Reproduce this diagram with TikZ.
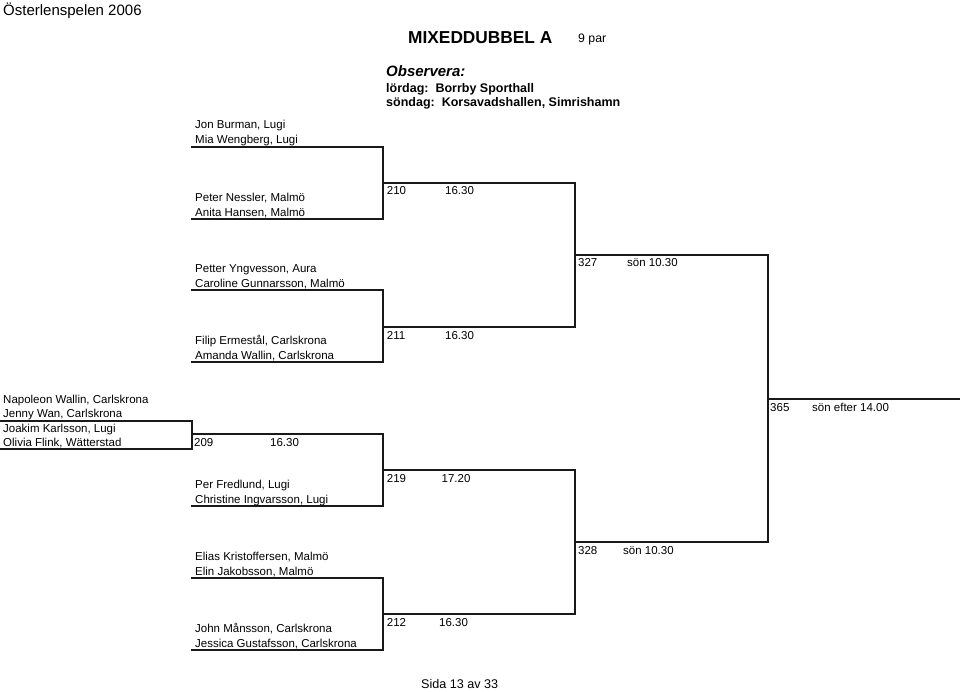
\documentclass[tikz,border=0pt]{standalone}
\usepackage{fontspec}
\setmainfont{Liberation Sans}
\begin{document}
\begin{tikzpicture}[x=1pt,y=-1pt,
  bline/.style={draw=black!90,line width=1.6pt,line join=miter,line cap=rect},
  txt/.style={anchor=base west,inner sep=0pt,font=\fontsize{11.5}{13}\selectfont},
  lbl/.style={anchor=base west,inner sep=0pt,font=\fontsize{11.5}{13}\selectfont}]
\useasboundingbox (0,0) rectangle (960,692);
% headings
\node[anchor=base west,inner sep=0pt,font=\fontsize{15}{17}\selectfont] (title) at (3,15.5) {Österlenspelen 2006};
\node[anchor=base west,inner sep=0pt,font=\fontsize{17.3}{19}\selectfont\bfseries] (class) at (408,43.3) {MIXEDDUBBEL A};
\node[anchor=base west,inner sep=0pt,font=\fontsize{12.3}{14}\selectfont] (npar) at (578,43) {9 par};
\node[anchor=base west,inner sep=0pt,font=\fontsize{15}{17}\selectfont\bfseries\itshape] (obs) at (386,76.5) {Observera:};
\node[anchor=base west,inner sep=0pt,font=\fontsize{12.5}{14}\selectfont\bfseries] (lor) at (386,92.5) {lördag:\ \ Borrby Sporthall};
\node[anchor=base west,inner sep=0pt,font=\fontsize{12.5}{14}\selectfont\bfseries] (son) at (386,106.8) {söndag:\ \ Korsavadshallen, Simrishamn};
\node[anchor=base west,inner sep=0pt,font=\fontsize{12.6}{14}\selectfont] (page) at (421,688) {Sida 13 av 33};

% entrant line coordinates
\coordinate (e1a) at (192,147); \coordinate (e1b) at (383,147);
\coordinate (e2a) at (192,219); \coordinate (e2b) at (383,219);
\coordinate (e3a) at (192,290); \coordinate (e3b) at (383,290);
\coordinate (e4a) at (192,362); \coordinate (e4b) at (383,362);
\coordinate (e5a) at (0,421);   \coordinate (e5b) at (192,421);
\coordinate (e6a) at (0,449);   \coordinate (e6b) at (192,449);
\coordinate (e7a) at (192,506); \coordinate (e7b) at (383,506);
\coordinate (e8a) at (192,578); \coordinate (e8b) at (383,578);
\coordinate (e9a) at (192,650); \coordinate (e9b) at (383,650);
% match line coordinates
\coordinate (m209a) at (192,434); \coordinate (m209b) at (383,434);
\coordinate (m210a) at (383,183); \coordinate (m210b) at (575,183);
\coordinate (m211a) at (383,327); \coordinate (m211b) at (575,327);
\coordinate (m219a) at (383,470); \coordinate (m219b) at (575,470);
\coordinate (m212a) at (383,614); \coordinate (m212b) at (575,614);
\coordinate (m327a) at (575,255); \coordinate (m327b) at (768,255);
\coordinate (m328a) at (575,542); \coordinate (m328b) at (768,542);
\coordinate (m365a) at (768,399); \coordinate (m365b) at (960,399);

% brackets
\draw[bline] (e1a) -- (e1b) -- (e2b) -- (e2a);
\draw[bline] (e3a) -- (e3b) -- (e4b) -- (e4a);
\draw[bline] (e5a) -- (e5b) -- (e6b) -- (e6a);
\draw[bline] (m209a) -- (m209b) -- (e7b) -- (e7a);
\draw[bline] (e8a) -- (e8b) -- (e9b) -- (e9a);
\draw[bline] (m210a) -- (m210b) -- (m211b) -- (m211a);
\draw[bline] (m219a) -- (m219b) -- (m212b) -- (m212a);
\draw[bline] (m327a) -- (m327b) -- (m328b) -- (m328a);
\draw[bline] (m365a) -- (m365b);

% names
\node[txt] (n1a) at (195,129) {Jon Burman, Lugi};
\node[txt] (n1b) at (195,144) {Mia Wengberg, Lugi};
\node[txt] (n2a) at (195,201.5) {Peter Nessler, Malmö};
\node[txt] (n2b) at (195,216.5) {Anita Hansen, Malmö};
\node[txt] (n3a) at (195,272.5) {Petter Yngvesson, Aura};
\node[txt] (n3b) at (195,287.5) {Caroline Gunnarsson, Malmö};
\node[txt] (n4a) at (195,344.5) {Filip Ermestål, Carlskrona};
\node[txt] (n4b) at (195,359.5) {Amanda Wallin, Carlskrona};
\node[txt] (n5a) at (3,403) {Napoleon Wallin, Carlskrona};
\node[txt] (n5b) at (3,417.5) {Jenny Wan, Carlskrona};
\node[txt] (n6a) at (3,432) {Joakim Karlsson, Lugi};
\node[txt] (n6b) at (3,446.5) {Olivia Flink, Wätterstad};
\node[txt] (n7a) at (195,488.5) {Per Fredlund, Lugi};
\node[txt] (n7b) at (195,503.5) {Christine Ingvarsson, Lugi};
\node[txt] (n8a) at (195,560.5) {Elias Kristoffersen, Malmö};
\node[txt] (n8b) at (195,575.5) {Elin Jakobsson, Malmö};
\node[txt] (n9a) at (195,632.5) {John Månsson, Carlskrona};
\node[txt] (n9b) at (195,647.5) {Jessica Gustafsson, Carlskrona};

% match labels
\node[lbl] (l209) at (194,446.5) {209};   \node[lbl] (t209) at (270,446.5) {16.30};
\node[lbl] (l210) at (386.7,195) {210};   \node[lbl] (t210) at (445,195) {16.30};
\node[lbl] (l211) at (386.7,339) {211};   \node[lbl] (t211) at (445,339) {16.30};
\node[lbl] (l219) at (386.7,482) {219};   \node[lbl] (t219) at (441.5,482) {17.20};
\node[lbl] (l212) at (386.7,626) {212};   \node[lbl] (t212) at (439,626) {16.30};
\node[lbl] (l327) at (578,267) {327};     \node[lbl] (t327) at (627,267) {sön 10.30};
\node[lbl] (l328) at (578,554) {328};     \node[lbl] (t328) at (623,554) {sön 10.30};
\node[lbl] (l365) at (770,411) {365};     \node[lbl] (t365) at (812,411) {sön efter 14.00};
\end{tikzpicture}
\end{document}
